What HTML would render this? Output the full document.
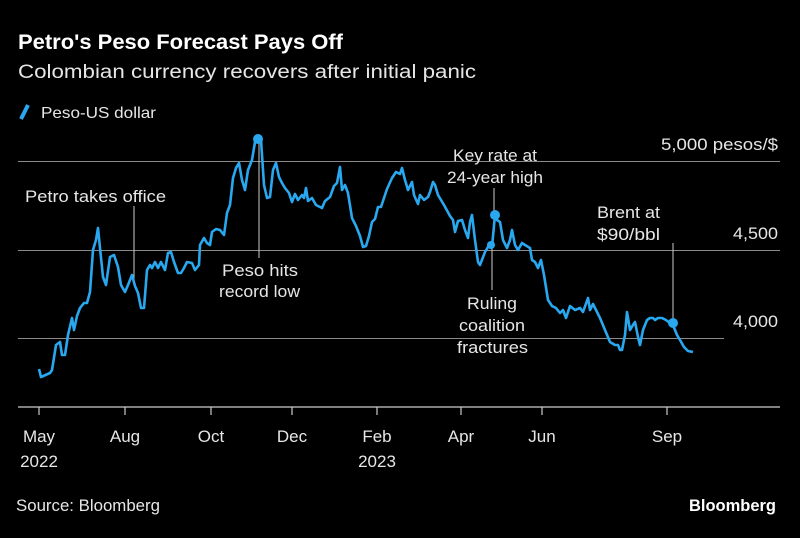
<!DOCTYPE html>
<html><head><meta charset="utf-8"><style>
body{margin:0;background:#000;width:800px;height:533px;overflow:hidden;font-family:"Liberation Sans",sans-serif;}
</style></head><body>
<svg width="800" height="533" xmlns="http://www.w3.org/2000/svg" font-family="Liberation Sans, sans-serif">
<rect width="800" height="533" fill="#000"/>
<text x="18" y="49" fill="#fff" font-size="21" font-weight="bold" textLength="325" lengthAdjust="spacingAndGlyphs">Petro's Peso Forecast Pays Off</text>
<text x="18" y="78" fill="#e6e6e6" font-size="19" textLength="458" lengthAdjust="spacingAndGlyphs">Colombian currency recovers after initial panic</text>
<line x1="21" y1="119" x2="28" y2="105" stroke="#29a8f0" stroke-width="4"/>
<text x="41" y="118" fill="#e6e6e6" font-size="16" textLength="115" lengthAdjust="spacingAndGlyphs">Peso-US dollar</text>
<g stroke="#8a8a8a" stroke-width="1">
<line x1="18" y1="161.5" x2="780" y2="161.5"/>
<line x1="18" y1="250.5" x2="780" y2="250.5"/>
<line x1="18" y1="338.5" x2="724" y2="338.5"/>
</g>
<line x1="18" y1="407" x2="780" y2="407" stroke="#ccc" stroke-width="1.2"/>
<g stroke="#ccc" stroke-width="1.2">
<line x1="39" y1="407" x2="39" y2="415"/><line x1="125" y1="407" x2="125" y2="415"/>
<line x1="211" y1="407" x2="211" y2="415"/><line x1="292" y1="407" x2="292" y2="415"/>
<line x1="377" y1="407" x2="377" y2="415"/><line x1="461" y1="407" x2="461" y2="415"/>
<line x1="542" y1="407" x2="542" y2="415"/><line x1="667" y1="407" x2="667" y2="415"/>
</g>
<g fill="#e6e6e6" font-size="17">
<text x="661" y="150" textLength="117" lengthAdjust="spacingAndGlyphs">5,000 pesos/$</text>
<text x="733" y="239" textLength="45" lengthAdjust="spacingAndGlyphs">4,500</text>
<text x="733" y="327" textLength="45" lengthAdjust="spacingAndGlyphs">4,000</text>
<text x="39" y="442" text-anchor="middle">May</text><text x="39" y="467" text-anchor="middle">2022</text>
<text x="125" y="442" text-anchor="middle">Aug</text>
<text x="211" y="442" text-anchor="middle">Oct</text>
<text x="292" y="442" text-anchor="middle">Dec</text>
<text x="377" y="442" text-anchor="middle">Feb</text><text x="377" y="467" text-anchor="middle">2023</text>
<text x="461" y="442" text-anchor="middle">Apr</text>
<text x="542" y="442" text-anchor="middle">Jun</text>
<text x="667" y="442" text-anchor="middle">Sep</text>
</g>
<g stroke="#ccc" stroke-width="1">
<line x1="134" y1="206" x2="134" y2="285"/>
<line x1="259" y1="140" x2="259" y2="258"/>
<line x1="494" y1="188" x2="494" y2="213"/>
<line x1="492" y1="248" x2="492" y2="290"/>
<line x1="673" y1="243" x2="673" y2="320"/>
</g>
<g fill="#e6e6e6" font-size="17">
<text x="25" y="202" textLength="141" lengthAdjust="spacingAndGlyphs">Petro takes office</text>
<text x="222" y="276" textLength="76" lengthAdjust="spacingAndGlyphs">Peso hits</text>
<text x="219" y="297" textLength="81" lengthAdjust="spacingAndGlyphs">record low</text>
<text x="453" y="161" textLength="84" lengthAdjust="spacingAndGlyphs">Key rate at</text>
<text x="447" y="183" textLength="96" lengthAdjust="spacingAndGlyphs">24-year high</text>
<text x="467" y="309" textLength="50" lengthAdjust="spacingAndGlyphs">Ruling</text>
<text x="459" y="331" textLength="66" lengthAdjust="spacingAndGlyphs">coalition</text>
<text x="457" y="353" textLength="71" lengthAdjust="spacingAndGlyphs">fractures</text>
<text x="597" y="218" textLength="63" lengthAdjust="spacingAndGlyphs">Brent at</text>
<text x="597" y="240" textLength="63" lengthAdjust="spacingAndGlyphs">$90/bbl</text>
</g>
<polyline fill="none" stroke="#29a8f0" stroke-width="2.6" stroke-linejoin="round" points="39,369 41,377 50,373 52,370 56,345 60,342 62,355 65,355 68,335 72,318 74,330 77,316 80,308 84,303 87,303 90,292 93,250 96,240 98,228 100,248 103,277 106,285 110,257 114,255 118,267 121,285 125,292 128,285 132,275 135,286 138,293 141,308 144,308 147,270 150,265 152,268 155,262 158,268 161,262 165,270 168,253 171,252 174,262 178,273 181,273 184,268 187,262 192,263 195,270 199,265 200,245 204,238 207,243 210,245 212,232 216,229 220,230 224,235 227,213 230,205 233,178 236,168 239,163 242,180 245,190 248,170 252,160 255,142 258,138 261,140 264,185 267,198 270,197 273,170 276,163 279,177 282,183 285,188 289,193 292,202 295,194 298,200 302,195 304,198 306,188 308,201 312,198 316,205 322,208 325,201 330,197 334,186 337,183 340,167 342,190 345,185 348,193 352,218 356,226 360,236 363,247 366,246 369,236 372,222 375,219 378,207 381,207 384,198 387,189 392,178 396,172 400,174 402,168 405,180 408,190 412,182 414,195 418,204 420,195 424,200 428,197 430,192 433,182 435,185 438,195 444,205 450,216 453,220 455,232 458,221 462,220 465,230 468,238 470,222 472,215 475,240 478,262 480,265 485,252 488,247 490,243 492,247 495,215 497,220 500,222 503,240 507,248 510,240 512,230 515,245 518,250 522,243 525,245 530,248 532,260 535,262 538,268 541,260 544,275 548,300 552,306 556,308 560,313 563,310 566,318 570,306 575,310 580,308 583,312 588,298 590,310 593,304 597,312 600,318 605,330 610,342 615,345 618,345 620,350 622,350 625,335 627,312 630,330 633,325 635,322 638,337 640,345 643,330 647,320 650,318 653,318 655,320 658,318 662,318 666,320 670,323 673,325 677,335 680,340 684,347 688,351 693,352"/>
<g fill="#29a8f0">
<circle cx="258" cy="139" r="5"/><circle cx="495" cy="215" r="5"/><circle cx="491" cy="245" r="4"/><circle cx="673" cy="323" r="5"/>
</g>
<text x="16" y="511" fill="#e6e6e6" font-size="17" textLength="144" lengthAdjust="spacingAndGlyphs">Source: Bloomberg</text>
<text x="689" y="511" fill="#fff" font-size="17" font-weight="bold" textLength="87" lengthAdjust="spacingAndGlyphs">Bloomberg</text>
</svg>
</body></html>
